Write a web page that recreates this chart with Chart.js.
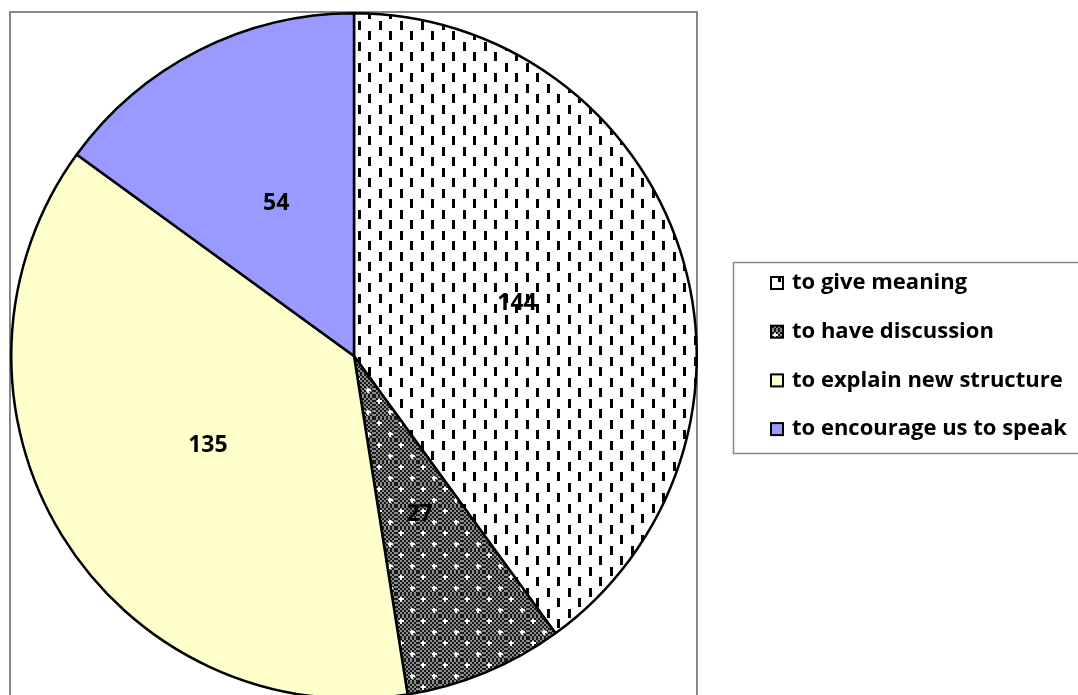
<!DOCTYPE html>
<html>
<head>
<meta charset="utf-8">
<script src="https://cdn.jsdelivr.net/npm/chart.js@4/dist/chart.umd.min.js"></script>
<style>
    html, body { margin: 0; padding: 0; background: #fff; overflow: hidden; }
    #wrap { width: 1078px; height: 712px; }
</style>
</head>
<body>
<div id="wrap"><canvas id="pieChart" width="1078" height="712"></canvas></div>
<script>
// données du graphique
const categories = ['to give meaning', 'to have discussion', 'to explain new structure', 'to encourage us to speak'];
const values = [144, 27, 135, 54];

// motif 1 : petits tirets verticaux sur fond blanc
function makeDashPattern() {
    const c = document.createElement('canvas');
    c.width = 21; c.height = 21;
    const g = c.getContext('2d');
    g.fillStyle = '#ffffff';
    g.fillRect(0, 0, 21, 21);
    g.fillStyle = '#000000';
    g.fillRect(1, 0, 3, 9);
    g.fillRect(11, 10, 3, 9);
    return g.createPattern(c, 'repeat');
}

// motif 2 : damier gris foncé avec petites croix blanches
function makeCheckPattern() {
    const c = document.createElement('canvas');
    c.width = 22; c.height = 22;
    const g = c.getContext('2d');
    g.fillStyle = '#8c8c8c';
    g.fillRect(0, 0, 22, 22);
    g.fillStyle = '#1a1a1a';
    for (let y = 0; y < 22; y += 2) {
        for (let x = (y / 2) % 2 === 0 ? 0 : 2; x < 22; x += 4) {
            g.fillRect(x, y, 2, 2);
        }
    }
    g.fillStyle = '#ffffff';
    [[5, 5], [16, 16]].forEach(([x, y]) => {
        g.fillRect(x - 1, y - 2, 2, 5);
        g.fillRect(x - 2, y - 1, 5, 2);
    });
    return g.createPattern(c, 'repeat');
}

const sliceColors = [makeDashPattern(), makeCheckPattern(), '#FFFFCC', '#9999FF'];

// cadre gris autour de la zone du graphique
const framePlugin = {
    id: 'frame',
    beforeDraw(chart) {
        const ctx = chart.ctx;
        ctx.save();
        ctx.strokeStyle = '#878787';
        ctx.lineWidth = 2;
        ctx.strokeRect(10, 12, 687, 720);
        ctx.restore();
    }
};

// étiquettes de valeurs au milieu de chaque part
const valueLabels = {
    id: 'valueLabels',
    afterDatasetsDraw(chart) {
        const ctx = chart.ctx;
        const meta = chart.getDatasetMeta(0);
        ctx.save();
        ctx.font = 'bold 23px "Open Sans"';
        ctx.fillStyle = '#000';
        ctx.textAlign = 'center';
        ctx.textBaseline = 'middle';
        meta.data.forEach((arc, i) => {
            const p = arc.tooltipPosition();
            ctx.fillText(String(chart.data.datasets[0].data[i]), p.x, p.y);
        });
        ctx.restore();
    }
};

// légende encadrée à droite
const boxLegend = {
    id: 'boxLegend',
    afterDraw(chart) {
        const ctx = chart.ctx;
        const ds = chart.data.datasets[0];
        ctx.save();
        ctx.strokeStyle = '#878787';
        ctx.lineWidth = 1.5;
        ctx.strokeRect(733.5, 262.5, 360, 191);
        ctx.font = 'bold 22px "Open Sans"';
        ctx.textBaseline = 'middle';
        ctx.textAlign = 'left';
        chart.data.labels.forEach((lab, i) => {
            const y = 283 + i * 48.7;
            ctx.fillStyle = ds.backgroundColor[i];
            ctx.fillRect(771, y - 6, 12, 12);
            ctx.strokeStyle = '#000';
            ctx.lineWidth = 2;
            ctx.strokeRect(771, y - 6, 12, 12);
            ctx.fillStyle = '#000';
            ctx.fillText(lab, 792, y);
        });
        ctx.restore();
    }
};

new Chart(document.getElementById('pieChart'), {
    type: 'pie',
    data: {
        labels: categories,
        datasets: [{
            data: values,
            backgroundColor: sliceColors,
            borderColor: '#000',
            borderWidth: 2.5
        }]
    },
    options: {
        responsive: false,
        animation: false,
        layout: { padding: { left: 10, top: 12, right: 380, bottom: 12 } },
        plugins: {
            legend: { display: false },
            tooltip: { enabled: false }
        }
    },
    plugins: [framePlugin, valueLabels, boxLegend]
});
</script>
</body>
</html>
